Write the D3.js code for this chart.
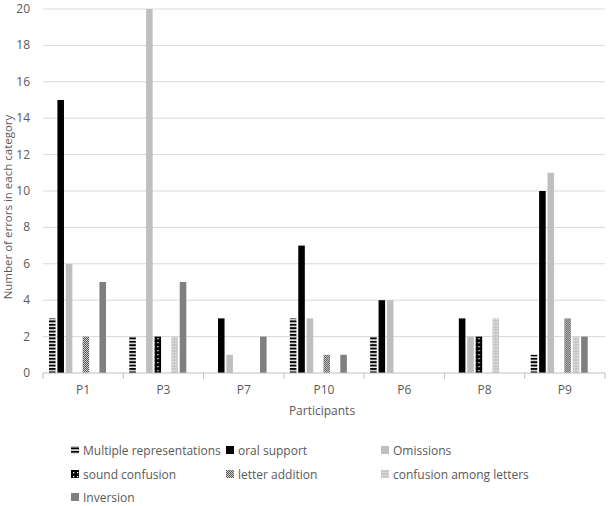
<!DOCTYPE html>
<html>
<head>
<meta charset="utf-8">
<script src="https://cdn.jsdelivr.net/npm/d3@7"></script>
<style>
  body { margin: 0; background: #fff; }
  text { font-family: "Open Sans", sans-serif; fill: #595959; }
</style>
</head>
<body>
<div id="chart"></div>
<script>
// chart data
var participants = ["P1", "P3", "P7", "P10", "P6", "P8", "P9"];
var categories = ["Multiple representations", "oral support", "Omissions",
                  "sound confusion", "letter addition", "confusion among letters", "Inversion"];
var multipleRep   = [3, 2, 0, 3, 2, 0, 1];
var oralSupport   = [15, 0, 3, 7, 4, 3, 10];
var omissions     = [6, 20, 1, 3, 4, 2, 11];
var soundConf     = [0, 2, 0, 0, 0, 2, 0];
var letterAdd     = [2, 0, 0, 1, 0, 0, 3];
var confLetters   = [0, 2, 0, 0, 0, 3, 2];
var inversion     = [5, 5, 2, 1, 0, 0, 2];
var yTicks = [0, 2, 4, 6, 8, 10, 12, 14, 16, 18, 20];

var series = [multipleRep, oralSupport, omissions, soundConf, letterAdd, confLetters, inversion];
var fills = ["url(#stripes)", "#000000", "#bfbfbf", "url(#dots)", "url(#checks)", "url(#lightgrid)", "#7f7f7f"];

var width = 609, height = 506;
var svg = d3.select("#chart").append("svg")
    .attr("width", width)
    .attr("height", height);

// patterns
var defs = svg.append("defs");
var p = defs.append("pattern").attr("id", "stripes").attr("patternUnits", "userSpaceOnUse")
    .attr("width", 8).attr("height", 3.4);
p.append("rect").attr("width", 8).attr("height", 3.4).attr("fill", "#fff");
p.append("rect").attr("y", 0.8).attr("width", 8).attr("height", 2).attr("fill", "#000");

p = defs.append("pattern").attr("id", "dots").attr("patternUnits", "userSpaceOnUse")
    .attr("width", 4).attr("height", 4);
p.append("rect").attr("width", 4).attr("height", 4).attr("fill", "#000");
p.append("rect").attr("x", 2).attr("y", 2).attr("width", 1.3).attr("height", 1.3).attr("fill", "#fff");

p = defs.append("pattern").attr("id", "checks").attr("patternUnits", "userSpaceOnUse")
    .attr("width", 2).attr("height", 2);
p.append("rect").attr("width", 2).attr("height", 2).attr("fill", "#d0d0d0");
p.append("rect").attr("width", 1).attr("height", 1).attr("fill", "#555");
p.append("rect").attr("x", 1).attr("y", 1).attr("width", 1).attr("height", 1).attr("fill", "#555");

p = defs.append("pattern").attr("id", "lightgrid").attr("patternUnits", "userSpaceOnUse")
    .attr("width", 3).attr("height", 3);
p.append("rect").attr("width", 3).attr("height", 3).attr("fill", "#c8c8c8");
p.append("rect").attr("x", 1).attr("y", 1).attr("width", 1.2).attr("height", 1.2).attr("fill", "#ececec");

var margin = {left: 43, right: 4, top: 9, bottom: 133};
var x0 = d3.scaleBand().domain(participants).range([margin.left, width - margin.right]);
var x1 = d3.scaleBand().domain(d3.range(categories.length)).range([6, 63]).paddingInner(0.22);
var y = d3.scaleLinear().domain([0, 20]).range([height - margin.bottom, margin.top]);

// gridlines
svg.append("g").selectAll("line").data(yTicks.slice(1)).enter().append("line")
    .attr("x1", margin.left).attr("x2", width - margin.right)
    .attr("y1", function(d) { return y(d); }).attr("y2", function(d) { return y(d); })
    .attr("stroke", "#d9d9d9").attr("stroke-width", 1);

// y labels
svg.append("g").selectAll("text").data(yTicks).enter().append("text")
    .attr("x", 30).attr("y", function(d) { return y(d) + 4; })
    .attr("text-anchor", "end").attr("font-size", 12)
    .text(function(d) { return d; });

svg.append("text")
    .attr("transform", "translate(12,207) rotate(-90)")
    .attr("text-anchor", "middle").attr("font-size", 11.5)
    .text("Number of errors in each category");

// bars
var groups = svg.append("g").selectAll("g").data(participants).enter().append("g")
    .attr("transform", function(d) { return "translate(" + x0(d) + ",0)"; });

groups.selectAll("rect")
    .data(function(d, i) { return series.map(function(s, j) { return {k: j, v: s[i]}; }); })
    .enter().append("rect")
    .attr("x", function(d) { return x1(d.k); })
    .attr("width", x1.bandwidth())
    .attr("y", function(d) { return y(d.v); })
    .attr("height", function(d) { return y(0) - y(d.v); })
    .attr("fill", function(d) { return fills[d.k]; });

// x axis
var xAxis = svg.append("g").attr("transform", "translate(0," + y(0) + ")");
xAxis.append("line").attr("x1", margin.left).attr("x2", width - margin.right)
    .attr("stroke", "#bfbfbf");
var bounds = participants.map(function(d) { return x0(d); }).concat([x0.range()[1]]);
xAxis.selectAll("line.tick").data(bounds).enter().append("line")
    .attr("class", "tick")
    .attr("x1", function(d) { return d; }).attr("x2", function(d) { return d; })
    .attr("y1", 0).attr("y2", 6).attr("stroke", "#bfbfbf");
xAxis.selectAll("text").data(participants).enter().append("text")
    .attr("x", function(d) { return x0(d) + x0.bandwidth() / 2; })
    .attr("y", 21).attr("text-anchor", "middle").attr("font-size", 12)
    .text(function(d) { return d; });

svg.append("text").attr("x", 322).attr("y", 415)
    .attr("text-anchor", "middle").attr("font-size", 12)
    .text("Participants");

// legend
var legX = [71, 226, 381], legY = [450, 474, 497];
var leg = svg.append("g").selectAll("g").data(categories).enter().append("g")
    .attr("transform", function(d, i) {
        return "translate(" + legX[i % 3] + "," + legY[Math.floor(i / 3)] + ")";
    });
leg.append("rect").attr("x", 0).attr("y", -4).attr("width", 8).attr("height", 8)
    .attr("fill", function(d, i) { return fills[i]; });
leg.append("text").attr("x", 12).attr("y", 4.5).attr("font-size", 12)
    .text(function(d) { return d; });
</script>
</body>
</html>
